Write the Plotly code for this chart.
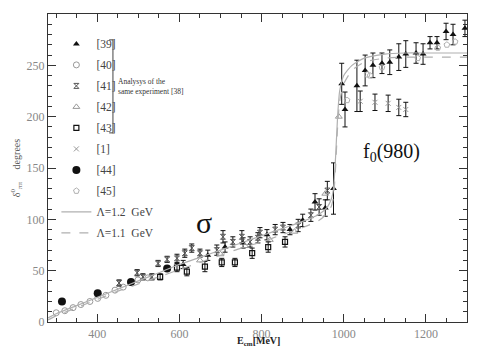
import plotly.graph_objects as go

# ---------------- data ----------------
# Lambda curves
curve_E = [280, 300, 350, 400, 450, 500, 550, 600, 650, 700, 750, 800, 850, 900, 940, 960,
           970, 975, 980, 985, 990, 1000, 1020, 1050, 1100, 1150, 1200, 1250, 1300]
curve_12 = [4, 8, 16, 24, 32, 40, 48, 56, 63, 70, 77, 84, 91, 98, 105, 112,
            120, 130, 160, 200, 225, 240, 250, 257, 261, 262, 262, 262, 262]
curve_11 = [2, 6, 14, 22, 30, 37, 44, 51, 58, 65, 72, 78, 85, 92, 99, 106,
            113, 122, 150, 190, 215, 232, 245, 253, 257, 258, 258, 258, 258]

# [39] filled triangles
e39 = [609, 669, 711, 755, 813, 869, 900, 930, 955, 975, 995, 1003, 1032, 1052, 1071, 1093,
       1112, 1134, 1151, 1176, 1193, 1210, 1227, 1249, 1266, 1295]
d39 = [56, 65, 73, 77, 85, 90, 99, 117, 111, 130, 232, 207, 230, 245, 250, 252,
       253, 258, 261, 262, 261, 272, 272, 283, 280, 286]
err39 = [4, 5, 5, 5, 5, 5, 6, 8, 8, 25, 20, 17, 25, 15, 12, 10,
         12, 13, 13, 10, 10, 6, 6, 8, 10, 8]

# [40] open circles
e40 = [300, 321, 341, 360, 382, 401, 421, 443, 463, 499, 523]
d40 = [9, 11, 14, 17, 20, 23, 26, 31, 34, 41, 43]

# [41] hourglass markers with error bars
e41 = [453, 497, 511, 533, 548, 570, 594, 613, 630, 650, 691, 706, 730, 752, 772, 791,
       796, 833, 852, 889, 920, 940, 960]
d41 = [38, 48, 44, 44, 57, 61, 62, 67, 72, 67, 70, 83, 78, 83, 78, 82,
       87, 90, 92, 94, 104, 112, 128]
err41 = [3, 3, 3, 3, 3, 3, 4, 4, 4, 4, 5, 6, 5, 6, 5, 5,
         5, 5, 5, 6, 6, 8, 9]

# [42] open triangles
e42 = [650, 700, 760, 820, 880, 955, 988]
d42 = [60, 66, 74, 80, 88, 125, 200]

# [43] open squares
e43 = [553, 594, 618, 662, 703, 735, 777, 816, 857]
d43 = [44, 53, 49, 54, 58, 58, 67, 73, 78]
err43 = [3, 4, 4, 5, 4, 4, 5, 5, 5]

# [1] crosses
e1 = [1040, 1076, 1108, 1134, 1151]
d1 = [215, 214, 213, 209, 207]
err1 = [10, 8, 8, 8, 7]

# [44] filled markers
e44 = [314, 401, 482, 570]
d44 = [20, 28, 39, 52]

# [45] open pentagons
e45 = [1008, 1057, 1064, 1093, 1180, 1229, 1251, 1271]
d45 = [216, 241, 240, 248, 257, 267, 270, 273]

x_ticks = [400, 600, 800, 1000, 1200]
y_ticks = [0, 50, 100, 150, 200, 250, 300]

# ---------------- figure ----------------
BLACK = "#111111"
GRAY = "#999999"
LGRAY = "#b0b0b0"

fig = go.Figure()

def eb(vals, color):
    return dict(type="data", array=vals, visible=True, color=color, thickness=1, width=2.5)

fig.add_trace(go.Scatter(x=e39, y=d39, mode="markers", name="[39]", legendgroup="g1",
                         marker=dict(symbol="triangle-up", size=6, color=BLACK),
                         error_y=eb(err39, BLACK)))
fig.add_trace(go.Scatter(x=e40, y=d40, mode="markers", name="[40]", legendgroup="g2",
                         marker=dict(symbol="circle-open", size=6, color=GRAY, line=dict(width=1))))
fig.add_trace(go.Scatter(x=e41, y=d41, mode="markers", name="[41]", legendgroup="g3",
                         marker=dict(symbol="hourglass-open", size=5, color="#555555", line=dict(width=1)),
                         error_y=eb(err41, BLACK)))
fig.add_trace(go.Scatter(x=e42, y=d42, mode="markers", name="[42]", legendgroup="g4",
                         marker=dict(symbol="triangle-up-open", size=6, color=GRAY, line=dict(width=1))))
fig.add_trace(go.Scatter(x=e43, y=d43, mode="markers", name="[43]", legendgroup="g5",
                         marker=dict(symbol="square-open", size=5, color=BLACK, line=dict(width=1.2)),
                         error_y=eb(err43, BLACK)))
fig.add_trace(go.Scatter(x=e1, y=d1, mode="markers", name="[1]", legendgroup="g6",
                         marker=dict(symbol="x-thin-open", size=5, color=GRAY, line=dict(width=1, color=GRAY)),
                         error_y=eb(err1, BLACK)))
fig.add_trace(go.Scatter(x=e44, y=d44, mode="markers", name="[44]", legendgroup="g7",
                         marker=dict(symbol="circle", size=8, color=BLACK)))
fig.add_trace(go.Scatter(x=e45, y=d45, mode="markers", name="[45]", legendgroup="g8",
                         marker=dict(symbol="pentagon-open", size=6, color=LGRAY, line=dict(width=1))))
fig.add_trace(go.Scatter(x=curve_E, y=curve_12, mode="lines", name="\u039b=1.2  GeV", legendgroup="g9",
                         line=dict(color=LGRAY, width=1.2, shape="spline", smoothing=0.6)))
fig.add_trace(go.Scatter(x=curve_E, y=curve_11, mode="lines", name="\u039b=1.1  GeV", legendgroup="g10",
                         line=dict(color=LGRAY, width=1.2, dash="dash", shape="spline", smoothing=0.6)))

axis_common = dict(
    showline=True, linecolor="#333333", linewidth=1.2, mirror="allticks",
    ticks="inside", ticklen=8, tickcolor="#333333", tickwidth=1,
    showgrid=False, zeroline=False,
    tickfont=dict(family="Liberation Serif", size=12, color="#888888"),
)

fig.update_xaxes(range=[280, 1300], tickvals=x_ticks, ticktext=[str(v) for v in x_ticks],
                 minor=dict(dtick=50, tick0=0, ticks="inside", ticklen=4, tickcolor="#333333"),
                 automargin=False, **axis_common)
fig.update_yaxes(range=[0, 300], tickvals=y_ticks, ticktext=[str(v) for v in y_ticks],
                 minor=dict(dtick=10, tick0=0, ticks="inside", ticklen=4, tickcolor="#333333"),
                 title=dict(text="\u03b4<sup>0</sup><sub>\u03c0\u03c0</sub>     degrees", standoff=4,
                            font=dict(family="Liberation Serif", size=10, color="#555555")),
                 automargin=False, **axis_common)

# page body has an 8px default margin: figure is sized to fit the 479x351 window
fig.update_layout(
    width=471, height=343,
    margin=dict(l=40, r=12, t=6, b=29),
    paper_bgcolor="white", plot_bgcolor="white",
    showlegend=True,
    legend=dict(x=0.02, y=0.95, xanchor="left", yanchor="top",
                bgcolor="rgba(0,0,0,0)", borderwidth=0, tracegroupgap=2,
                traceorder="grouped", itemwidth=30,
                font=dict(family="Liberation Serif", size=11.5, color="#444444")),
    shapes=[
        dict(type="line", xref="paper", yref="paper", x0=0.155, x1=0.155, y0=0.916, y1=0.614,
             line=dict(color="#444444", width=1)),
        dict(type="line", xref="paper", yref="paper", x0=0.146, x1=0.155, y0=0.916, y1=0.916,
             line=dict(color="#444444", width=1)),
        dict(type="line", xref="paper", yref="paper", x0=0.146, x1=0.155, y0=0.614, y1=0.614,
             line=dict(color="#444444", width=1)),
    ],
    annotations=[
        dict(text="Analysys of the<br>same experiment [38]", xref="paper", yref="paper",
             x=0.163, y=0.765, xanchor="left", yanchor="middle", showarrow=False, align="left",
             font=dict(family="Liberation Serif", size=7.5, color="#333333")),
        dict(text="\u03c3", x=660, y=97, xref="x", yref="y", showarrow=False,
             font=dict(family="Liberation Serif", size=30, color="#111111")),
        dict(text="f<sub>0</sub>(980)", x=1117, y=165, xref="x", yref="y", showarrow=False,
             font=dict(family="Liberation Serif", size=20, color="#111111")),
        dict(text="<b>E<sub>cm</sub>[MeV]</b>", x=792, y=0, xref="x", yref="paper",
             yanchor="middle", yshift=-19, showarrow=False,
             font=dict(family="Liberation Serif", size=10, color="#222222")),
    ],
)

fig.write_html("out.html")
